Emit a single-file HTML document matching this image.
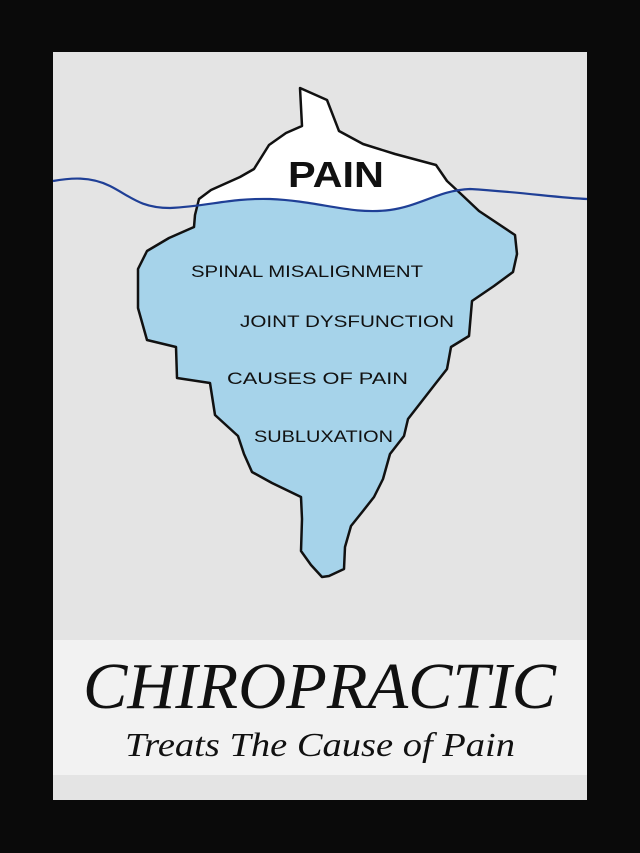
<!DOCTYPE html>
<html><head><meta charset="utf-8"><style>
html,body{margin:0;padding:0;background:#0a0a0a;}
svg{display:block}
</style></head><body>
<svg width="640" height="853" viewBox="0 0 640 853" xmlns="http://www.w3.org/2000/svg">
<rect x="0" y="0" width="640" height="853" fill="#0a0a0a"/>
<rect x="53" y="52" width="534" height="748" fill="#e4e4e4"/>
<rect x="53" y="640" width="534" height="135" fill="#f2f2f2"/>
<defs>
<path id="berg" d="M300,88 L327,100 L339,131 L363,144 L395,154 L436,165 L447,181 L461,194 L479,211 L515,235 L517,254 L513,272 L494,286 L472,301 L469,336 L451,347 L447,369 L436,383 L422,401 L408,419 L404,436 L390,454 L383,479 L374,497 L363,511 L351,526 L345,547 L344,569 L329,576 L322,577 L311,565 L301,551 L302,519 L301,497 L272,483 L252,472 L244,454 L238,436 L215,415 L210,383 L177,378 L176,347 L147,340 L138,308 L138,269 L147,251 L169,238 L194,227 L195,215 L199,199 L211,190 L240,177 L254,169 L269,145 L286,133 L302,126 Z"/>
<clipPath id="under"><path d="M53,181 C70,178 90,176 110,186 C130,196 140,208 170,208 C210,206 230,198 270,199 C320,201 350,215 390,210 C420,206 440,190 470,189 C520,192 560,198 587,199 L587,600 L53,600 Z"/></clipPath>
</defs>
<use href="#berg" fill="#ffffff"/>
<use href="#berg" fill="#a6d3ea" clip-path="url(#under)"/>
<use href="#berg" fill="none" stroke="#111" stroke-width="2.5" stroke-linejoin="round"/>
<path d="M53,181 C70,178 90,176 110,186 C130,196 140,208 170,208 C210,206 230,198 270,199 C320,201 350,215 390,210 C420,206 440,190 470,189 C520,192 560,198 587,199" fill="none" stroke="#1f3f96" stroke-width="2.2"/>
<g font-family="Liberation Sans, sans-serif" fill="#111">
<text x="288" y="187" font-size="36" font-weight="bold" textLength="96" lengthAdjust="spacingAndGlyphs">PAIN</text>
<text x="191" y="277" font-size="17" textLength="232" lengthAdjust="spacingAndGlyphs">SPINAL MISALIGNMENT</text>
<text x="240" y="327" font-size="17" textLength="214" lengthAdjust="spacingAndGlyphs">JOINT DYSFUNCTION</text>
<text x="227" y="384" font-size="17" textLength="181" lengthAdjust="spacingAndGlyphs">CAUSES OF PAIN</text>
<text x="254" y="442" font-size="17" textLength="139" lengthAdjust="spacingAndGlyphs">SUBLUXATION</text>
</g>
<g font-family="Liberation Serif, serif" font-style="italic" fill="#111">
<text x="83" y="708" font-size="66" textLength="473" lengthAdjust="spacingAndGlyphs">CHIROPRACTIC</text>
<text x="125" y="756" font-size="34" textLength="390" lengthAdjust="spacingAndGlyphs">Treats The Cause of Pain</text>
</g>
</svg>
</body></html>
